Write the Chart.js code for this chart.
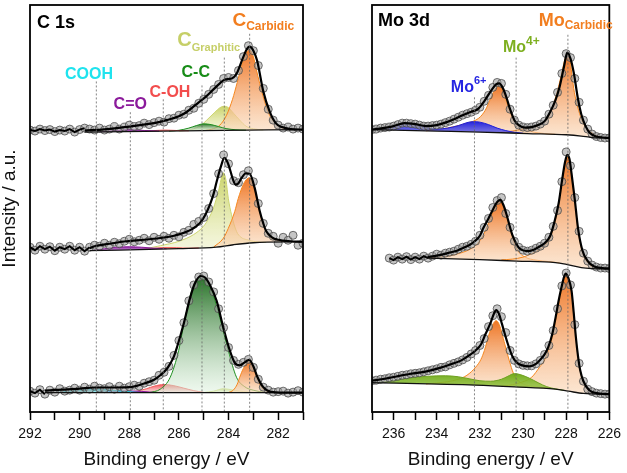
<!DOCTYPE html>
<html>
<head>
<meta charset="utf-8">
<title>XPS C 1s / Mo 3d</title>
<script src="https://cdn.jsdelivr.net/npm/chart.js@4.4.1/dist/chart.umd.min.js"></script>
<style>
	html, body { margin: 0; padding: 0; background: #fff; }
	#wrap { position: relative; width: 627px; height: 473px; }
	canvas { position: absolute; top: 0; }
	#c1sChart { left: 0; }
	#moChart { left: 313px; }
</style>
</head>
<body>
<div id="wrap">
	<canvas id="c1sChart" width="313" height="473"></canvas>
	<canvas id="moChart" width="314" height="473"></canvas>
</div>
<script>
// ---- C 1s data (binding energy in eV, intensity in a.u. incl. stack offset) ----
const c1sTicks = [292, 291, 290, 289, 288, 287, 286, 285, 284, 283, 282, 281];
const c1sEnergy = [292, 291.8, 291.6, 291.4, 291.2, 291, 290.8, 290.6, 290.4, 290.2, 290, 289.8, 289.6, 289.4, 289.2, 289, 288.8, 288.6, 288.4, 288.2, 288, 287.8, 287.6, 287.4, 287.2, 287, 286.8, 286.6, 286.4, 286.2, 286, 285.8, 285.6, 285.4, 285.2, 285, 284.8, 284.6, 284.4, 284.2, 284, 283.8, 283.6, 283.4, 283.2, 283, 282.8, 282.6, 282.4, 282.2, 282, 281.8, 281.6, 281.4, 281.2, 281];

const c1sRawTop = [284, 283, 285, 283.5, 284.5, 282.5, 284, 283, 285, 282, 284.5, 286, 285, 284, 286, 284, 285, 287.5, 285, 287, 289, 287.5, 288.5, 291, 289.5, 291.5, 293, 292, 295.5, 296, 299, 300, 304, 306, 311, 315, 320, 325, 330, 336, 337, 336, 344, 358, 369, 364, 349, 326, 305, 294, 289, 286, 287, 285, 286, 285];
const c1sRawMid = [166, 163, 167, 164, 166.5, 162.5, 166, 164, 167, 163, 166, 162, 166, 168, 167, 170, 168, 171, 169.5, 172, 174, 171.5, 173, 175, 172.5, 176, 174, 177, 175, 178, 176.5, 181, 183, 189, 192, 196, 205, 220, 240, 259, 250, 233, 231, 239, 243, 232, 210, 190, 180, 177, 170, 176, 173, 178, 168, 170];
const c1sRawBot = [21, 19, 22.5, 18, 22, 20, 23.5, 21, 22, 24, 22, 25, 23, 26, 24, 23.5, 25.5, 23, 26, 24, 25.5, 27, 26, 29, 30.5, 32, 37, 40, 46, 57, 72, 90, 112, 128, 136, 137, 131, 121, 104, 85, 65, 52, 48, 50, 53, 45, 33, 25, 22, 20, 20.5, 21, 19, 20, 21.5, 20];

const c1sFitTop = [[289.8, 283.6], [289, 284.8], [288.5, 286], [288, 287.5], [287.5, 289.2], [287, 291], [286.5, 294], [286, 298], [285.7, 302], [285.2, 312], [284.9, 318], [284.65, 324], [284.35, 331], [284.15, 335], [283.95, 335.5], [283.8, 337], [283.65, 342], [283.4, 358], [283.25, 366], [283.15, 368], [283, 364], [282.85, 354], [282.6, 323], [282.35, 303], [282.1, 291], [281.85, 287], [281.5, 285], [281, 284.5]];
const c1sBgTop = [[289.8, 282], [285, 283.4], [281, 284.5]];
const c1sCarbTop = [[285, 283.4], [284.6, 285.5], [284.35, 289], [284.08, 299], [283.84, 315], [283.65, 332], [283.48, 348], [283.3, 361], [283.15, 365], [283, 358], [282.88, 345], [282.61, 318], [282.35, 299], [282.1, 291], [281.95, 287.5], [281.6, 285], [281.2, 284.5]];
const c1sGraphTop = [[286, 283.1], [285.5, 284.5], [285.1, 289], [284.88, 294], [284.55, 302], [284.35, 306.5], [284.18, 308], [284, 306.5], [283.8, 301], [283.55, 294], [283.3, 288], [283, 285.2], [282.6, 284.3]];
const c1sCCTop = [[286.4, 283], [286, 283.8], [285.6, 286], [285.3, 288.5], [285, 290.3], [284.7, 289.5], [284.4, 287.5], [284.1, 285.5], [283.7, 284.3], [283.3, 283.9]];
const c1sCOHTop = [[287.6, 282.7], [287.1, 283.3], [286.6, 284], [286.1, 283.6], [285.6, 283.3]];
const c1sCOTop = [[289.2, 282.2], [288.6, 283.4], [288, 284.4], [287.4, 283.6], [286.8, 283]];

const c1sFitMid = [[289.6, 165], [289.4, 167], [288.8, 169.5], [288.1, 172], [287.4, 173.5], [286.75, 175.3], [286.2, 177.5], [285.8, 180.5], [285.45, 184.5], [285.15, 190.5], [284.95, 198], [284.75, 209], [284.6, 220], [284.48, 232], [284.3, 248], [284.17, 256], [284.05, 252], [283.95, 245], [283.82, 234], [283.71, 229], [283.6, 230.5], [283.48, 235.5], [283.3, 240.5], [283.15, 240], [282.95, 226], [282.75, 203], [282.6, 190], [282.48, 182], [282.25, 176], [282, 173.5], [281.5, 172], [281, 171.5]];
const c1sBgMid = [[289.6, 162.5], [286, 164.5], [284.5, 166], [283.8, 168.5], [283, 170.5], [281, 171.5]];
const c1sCarbMid = [[284.6, 166.2], [284.21, 175], [284.01, 185], [283.75, 202], [283.61, 215], [283.41, 229], [283.25, 235], [283.15, 236], [283, 230], [282.88, 216], [282.68, 195.5], [282.41, 179], [282.1, 173.5], [281.7, 172], [281.3, 171.6]];
const c1sGraphMid = [[287.5, 163.7], [286.75, 167.5], [286, 172], [285.41, 178.7], [285.01, 187], [284.8, 195], [284.61, 205.3], [284.4, 223], [284.21, 241], [284.1, 233], [284.01, 215.3], [283.88, 198.7], [283.68, 182], [283.5, 176], [283.28, 173.7], [282.9, 171.5], [282.5, 171]];
const c1sCOHMid = [[287.6, 163.7], [287.1, 164.6], [286.6, 165.6], [286.1, 165.5], [285.6, 165], [285.2, 165.3]];
const c1sCOMid = [[289.5, 162.6], [289, 164.5], [288.5, 166], [288, 166.5], [287.5, 166], [287, 165], [286.5, 164.5]];

const c1sFitBot = [[291.4, 21.5], [290.7, 22.5], [290, 23.5], [289.4, 24.7], [288.6, 24.7], [288, 25], [287.4, 28.7], [287, 32.5], [286.75, 37], [286.5, 43], [286.35, 48.7], [286.2, 56], [286.08, 65], [285.81, 88.7], [285.55, 115], [285.35, 130], [285.12, 137], [284.95, 135.5], [284.75, 128], [284.48, 112], [284.21, 85], [283.95, 62], [283.75, 49.5], [283.55, 47], [283.35, 50], [283.17, 52.5], [283, 46], [282.85, 36], [282.61, 25.3], [282.3, 20.3], [281.8, 19.5], [281, 19.5]];
const c1sBgBot = [[291.4, 19.5], [281, 19.5]];
const c1sCCBot = [[287.2, 19.6], [286.75, 23], [286.35, 35], [286.01, 62], [285.75, 95], [285.41, 128], [285.15, 135], [284.95, 133.5], [284.75, 127], [284.35, 95], [284.01, 62], [283.68, 35], [283.35, 25.5], [283.01, 22], [282.5, 19.6]];
const c1sCarbBot = [[284, 19.7], [283.81, 22], [283.65, 28], [283.55, 35], [283.4, 44], [283.2, 50.5], [283.05, 47.5], [282.88, 37], [282.68, 25.3], [282.45, 21], [282.2, 19.7]];
const c1sGraphBot = [[285, 19.6], [284.6, 21], [284.2, 23.5], [283.8, 22], [283.4, 20.5], [283, 19.7]];
const c1sCOHBot = [[288.2, 19.7], [287.7, 21], [287.3, 23.5], [287, 26], [286.6, 27.7], [286.2, 26.5], [285.8, 24], [285.4, 21.5], [285, 19.8]];
const c1sCOBot = [[289.2, 19.6], [288.5, 20.8], [288, 21.2], [287.5, 20.8], [287, 19.7]];
const c1sCOOHBot = [[291, 19.6], [290.4, 21], [289.8, 22.5], [289.3, 23], [288.8, 22.3], [288.2, 20.8], [287.6, 19.7]];

const c1sPeaks = [289.33, 287.96, 286.63, 285.07, 284.17, 283.15];
const c1sMarkTop = [333, 302, 315, 329, 357, 381];

// ---- Mo 3d data ----
const moTicks = [237, 236, 235, 234, 233, 232, 231, 230, 229, 228, 227, 226];
const moEnergy = [237, 236.8, 236.6, 236.4, 236.2, 236, 235.8, 235.6, 235.4, 235.2, 235, 234.8, 234.6, 234.4, 234.2, 234, 233.8, 233.6, 233.4, 233.2, 233, 232.8, 232.6, 232.4, 232.2, 232, 231.8, 231.6, 231.4, 231.2, 231, 230.8, 230.6, 230.4, 230.2, 230, 229.8, 229.6, 229.4, 229.2, 229, 228.8, 228.6, 228.4, 228.2, 228, 227.8, 227.6, 227.4, 227.2, 227, 226.8, 226.6, 226.4, 226.2, 226];

const moRawTop = [284.5, 285, 286, 286.5, 287, 288, 289.5, 291, 291, 290.5, 290, 289, 288, 288, 288.5, 289, 290, 291.5, 293, 295, 297, 299, 300.5, 302, 304, 307, 313, 319, 327, 332, 331, 320, 305, 294, 289, 287, 286.5, 287, 288, 290, 293, 300, 309, 322, 341, 361, 357, 336, 312, 294, 285, 280, 277.5, 276.5, 276, 276];
const moRawMid = [null, null, null, null, 155, 153, 156, 154, 156.5, 153.5, 156, 154, 157, 155, 157, 159, 158, 160, 161, 162, 164, 166, 167, 169, 172, 178, 186, 195, 206, 213, 216, 200, 186, 172, 166, 163, 162, 163, 165, 167, 170, 176, 187, 203, 232, 262, 248, 216, 182, 160, 152, 148, 146, 145, 145, 144.5];
const moRawBot = [31.5, 32, 33, 33.5, 34.5, 35, 36, 37, 37.5, 38.5, 39, 39.5, 40.5, 41.5, 42.5, 43.5, 45, 45.5, 47.5, 49, 50.5, 52.5, 55, 58.5, 62, 67, 74, 86, 97, 104, 96, 80, 62, 52, 48.5, 47, 46.5, 46.5, 48.5, 52, 58, 67, 82, 104, 127, 140, 128, 88, 49, 31, 23, 20.5, 19, 18.5, 18, 18];

const moFitTop = [[237, 284.5], [236.5, 286], [236, 288], [235.5, 291], [235, 290], [234.5, 288], [234, 289], [233.6, 291.5], [233.2, 295], [232.8, 299], [232.4, 302.5], [232.1, 305], [231.8, 313], [231.5, 323], [231.25, 330], [231.1, 331], [230.95, 327], [230.8, 319], [230.6, 305], [230.4, 294], [230.2, 289], [229.9, 286.5], [229.6, 287], [229.3, 289], [229, 293], [228.75, 302], [228.5, 314], [228.3, 328], [228.1, 348], [227.95, 362], [227.8, 356], [227.65, 342], [227.45, 315], [227.3, 300], [227.1, 288], [226.9, 281], [226.6, 277.5], [226.3, 276.5], [226, 276]];
const moBgTop = [[237, 284.5], [234, 283], [232, 282], [229.8, 280.5], [228, 279.3], [227.3, 278], [226.8, 276.5], [226, 276]];
const moCarb1Top = [[234.5, 283.3], [233.8, 285], [233.2, 287.5], [232.6, 291], [232.05, 296], [231.75, 304], [231.52, 315], [231.3, 325], [231.1, 329], [230.95, 325], [230.71, 309], [230.44, 295], [230.04, 286.5], [229.6, 282.5], [229, 280.5], [228.5, 279.8]];
const moCarb2Top = [[231.2, 281.7], [230.5, 283], [230, 285], [229.5, 287.5], [229.1, 291], [228.8, 298], [228.56, 312], [228.35, 328], [228.2, 342], [228.05, 356], [227.95, 360], [227.85, 357], [227.62, 322], [227.35, 298.7], [227.15, 289], [226.95, 284], [226.6, 278.5], [226.3, 276.5]];
const moSixTop = [[237, 284.5], [236.5, 285.5], [236, 287.5], [235.45, 290.5], [235, 289.5], [234.5, 286.5], [234, 285], [233.5, 286], [233, 288.5], [232.6, 291.5], [232.3, 292.5], [232, 292], [231.6, 289.5], [231.2, 286], [230.8, 283.5], [230.4, 281.8], [230, 280.8]];

const moFitMid = [[234.42, 156], [234, 157.5], [233.45, 160.3], [233, 163], [232.78, 165.3], [232.5, 168], [232.24, 172], [232, 177.5], [231.84, 185.3], [231.6, 195], [231.44, 202], [231.25, 210], [231.05, 213.7], [230.9, 208], [230.76, 198.7], [230.6, 186], [230.5, 178.7], [230.3, 169], [230.16, 164.7], [229.82, 162], [229.5, 163.5], [229.29, 166], [229, 170], [228.75, 177], [228.55, 191], [228.35, 210], [228.2, 232], [228.05, 252], [227.95, 259], [227.85, 255], [227.75, 240], [227.6, 214], [227.45, 185], [227.25, 163], [227, 152], [226.7, 146.5], [226.3, 145], [226, 144.7]];
const moBgMid = [[234.42, 155], [232, 153.5], [230.3, 152], [228.5, 150.5], [227.95, 148.5], [227.3, 145.5], [226.8, 144.5], [226, 144]];
const moCarb1Mid = [[234.42, 155], [233.5, 157], [233, 159.5], [232.5, 163.5], [232.1, 170], [231.8, 180], [231.5, 196], [231.25, 208], [231.05, 212], [230.9, 207], [230.76, 197], [230.5, 177], [230.25, 163], [229.9, 156], [229.4, 153], [228.8, 151.5], [228.3, 150.3]];
const moCarb2Mid = [[231, 153.3], [230.5, 154], [230, 156], [229.6, 159.5], [229.29, 163], [229, 167.5], [228.75, 175], [228.55, 189], [228.35, 208], [228.2, 230], [228.05, 250], [227.95, 257], [227.85, 253], [227.75, 238], [227.6, 212], [227.45, 183], [227.25, 161.5], [227, 150.5], [226.7, 145.5], [226.3, 144.3]];

const moFitBot = [[237, 31.5], [236.4, 33.5], [235.82, 36], [235.2, 38.5], [234.47, 41], [233.85, 44.5], [233.3, 48.5], [232.86, 52], [232.5, 57], [232.2, 62], [231.95, 68], [231.75, 78], [231.52, 89], [231.35, 99], [231.25, 102.7], [231.1, 98], [230.98, 89], [230.71, 69], [230.5, 56.5], [230.3, 50], [230.04, 47], [229.7, 46], [229.4, 48.5], [229.23, 52], [229, 58], [228.83, 65.3], [228.65, 78], [228.49, 95.3], [228.35, 112], [228.22, 125.3], [228.1, 136], [228.02, 139.3], [227.9, 135], [227.75, 122], [227.65, 100], [227.55, 75.3], [227.45, 56], [227.35, 42], [227.2, 31], [226.95, 22.5], [226.6, 19], [226.3, 18.3], [226, 18]];
const moBgBot = [[237, 29.5], [232.2, 27], [230.4, 25.3], [228.5, 23], [227.9, 21], [227.2, 18.7], [226, 18]];
const moCarb1Bot = [[234.5, 28.3], [233.5, 30.5], [233, 33], [232.6, 37], [232.19, 45.3], [231.95, 53], [231.79, 62], [231.55, 80], [231.38, 89], [231.25, 92], [231.1, 88], [230.85, 68.7], [230.64, 52], [230.44, 38.7], [230.2, 31], [229.9, 27.5], [229.4, 25.5], [228.8, 24]];
const moCarb2Bot = [[231, 25.9], [230.5, 27.5], [230, 30.5], [229.6, 35], [229.23, 45.3], [229, 52.5], [228.83, 62], [228.65, 75], [228.49, 92], [228.35, 108], [228.22, 122], [228.1, 134], [228.02, 138.5], [227.9, 134.5], [227.75, 121], [227.65, 99], [227.55, 75], [227.45, 55.5], [227.35, 41.5], [227.2, 30.5], [226.95, 22], [226.6, 18.8], [226.3, 18.2]];
const moFourBot = [[236.8, 29.6], [236, 31.5], [235.2, 34.5], [234.4, 36], [233.6, 36.5], [233, 35.5], [232.5, 33.5], [232, 31.5], [231.5, 31], [231, 33], [230.7, 36], [230.4, 38.7], [230.1, 37.5], [229.7, 34], [229.3, 29.5], [228.9, 25.5], [228.5, 23.3], [228.1, 21.8]];

const moPeaks = [232.25, 230.32, 227.92];
const moMarkTop = [317, 357, 380];

// ---- styles ----
const FONT = '"Liberation Sans", Arial, sans-serif';
Chart.defaults.font.family = FONT;
Chart.defaults.color = "#111";

const STYLE = {
	carbidic: { line: "#F5861E", top: "rgba(238,112,28,0.96)", bottom: "rgba(250,214,180,0.6)" },
	graphitic: { line: "#CDD570", top: "rgba(196,206,88,0.9)", bottom: "rgba(236,240,196,0.55)" },
	cc: { line: "#1E8E1E", top: "rgba(30,108,30,0.95)", bottom: "rgba(222,242,222,0.5)" },
	coh: { line: "#F25A5A", top: "rgba(240,64,70,0.9)", bottom: "rgba(248,180,182,0.5)" },
	co: { line: "#8A1A9A", top: "rgba(125,20,148,0.95)", bottom: "rgba(190,100,205,0.7)" },
	cooh: { line: "#1FD0DC", top: "rgba(20,200,212,0.9)", bottom: "rgba(130,225,232,0.6)" },
	mo6: { line: "#2020D8", top: "rgba(28,28,222,0.96)", bottom: "rgba(96,96,232,0.8)" },
	mo4: { line: "#6FA020", top: "rgba(108,168,20,0.96)", bottom: "rgba(150,198,70,0.8)" },
};

const pairs = (arr) => arr.map(([x, y]) => ({ x, y }));
const zip = (xs, ys) => xs.map((x, i) => ({ x, y: ys[i] }));

// vertical gradient from the top of a peak down to its base
function peakFill(style) {
	return (context) => {
		const chart = context.chart;
		if (!chart.chartArea) return style.top;
		const ys = context.dataset.data.map((p) => p.y);
		const yScale = chart.scales.y;
		const g = chart.ctx.createLinearGradient(
			0,
			yScale.getPixelForValue(Math.max(...ys)),
			0,
			yScale.getPixelForValue(Math.min(...ys)),
		);
		g.addColorStop(0, style.top);
		g.addColorStop(1, style.bottom);
		return g;
	};
}

// peaks listed first are drawn on top
function addSpectrum(list, s) {
	const bgIndex = list.length;
	list.push({ data: pairs(s.bg), borderColor: "#111", borderWidth: 1.3, cubicInterpolationMode: "monotone", order: 2 });
	for (const p of s.peaks) {
		list.push({
			data: pairs(p.data),
			borderColor: STYLE[p.kind].line,
			borderWidth: 1,
			backgroundColor: peakFill(STYLE[p.kind]),
			fill: { target: bgIndex },
			cubicInterpolationMode: "monotone",
			order: 5,
		});
	}
	const raw = zip(s.energy, s.raw).filter((p) => p.y !== null);
	list.push({
		data: raw,
		showLine: false,
		pointRadius: 4,
		pointBackgroundColor: "rgba(160,160,160,0.6)",
		pointBorderColor: "rgba(70,70,70,0.75)",
		pointBorderWidth: 1,
		order: 4,
	});
	list.push({ data: raw.filter((p) => p.x >= s.cut), borderColor: "#000", borderWidth: 2, order: 1 });
	list.push({ data: pairs(s.fit), borderColor: "#000", borderWidth: 2.2, cubicInterpolationMode: "monotone", order: 1 });
}

function addMarkers(list, peaks, tops) {
	peaks.forEach((x, i) => {
		list.push({
			data: [{ x, y: tops[i] }, { x, y: 0 }],
			borderColor: "#666",
			borderWidth: 0.8,
			borderDash: [2, 2],
			order: 0,
		});
	});
}

// frame, panel heading and peak labels
const panelDecor = {
	id: "panelDecor",
	afterDatasetsDraw(chart, args, opts) {
		const { ctx, chartArea: a, scales } = chart;
		ctx.save();
		ctx.strokeStyle = "#000";
		ctx.lineWidth = 1.8;
		ctx.strokeRect(a.left, a.top, a.right - a.left, a.bottom - a.top);

		ctx.textAlign = "left";
		ctx.textBaseline = "alphabetic";
		ctx.fillStyle = "#000";
		ctx.font = `bold 18px ${FONT}`;
		ctx.fillText(opts.heading, a.left + opts.headingX, a.top + opts.headingY);

		for (const l of opts.labels) {
			const mainFont = `bold ${l.size}px ${FONT}`;
			const smallFont = `bold ${l.small || 11}px ${FONT}`;
			ctx.font = mainFont;
			const w1 = ctx.measureText(l.text).width;
			ctx.font = smallFont;
			const w2 = l.extra ? ctx.measureText(l.extra).width : 0;
			const x0 = scales.x.getPixelForValue(l.at) - (w1 + w2) / 2;
			const by = scales.y.getPixelForValue(l.base);
			ctx.fillStyle = l.color;
			ctx.font = mainFont;
			ctx.fillText(l.text, x0, by);
			if (l.extra) {
				ctx.font = smallFont;
				ctx.fillText(l.extra, x0 + w1, by + l.shift);
			}
		}
		ctx.restore();
	},
};

function buildChart(id, cfg) {
	return new Chart(document.getElementById(id), {
		type: "line",
		data: { datasets: cfg.datasets },
		options: {
			responsive: false,
			animation: false,
			events: [],
			layout: { padding: cfg.padding },
			elements: { point: { radius: 0 }, line: { tension: 0 } },
			scales: {
				x: {
					type: "linear",
					reverse: true,
					min: cfg.ticks[cfg.ticks.length - 1],
					max: cfg.ticks[0],
					afterBuildTicks: (axis) => {
						axis.ticks = cfg.ticks.map((v) => ({ value: v }));
					},
					afterFit: (scale) => {
						scale.height = 61;
					},
					ticks: {
						autoSkip: false,
						maxRotation: 0,
						padding: 6,
						color: "#111",
						font: { size: 14 },
						callback: (v) => (v % 2 === 0 ? String(v) : ""),
					},
					grid: {
						display: true,
						drawOnChartArea: false,
						drawTicks: true,
						tickLength: 8,
						color: "#000",
						tickWidth: 1.5,
					},
					border: { display: false },
					title: {
						display: true,
						text: "Binding energy / eV",
						color: "#111",
						font: { size: 19 },
						padding: { top: 0, bottom: 2 },
					},
				},
				y: {
					type: "linear",
					min: 0,
					max: 410,
					display: cfg.yTitle ? true : false,
					afterFit: (scale) => {
						scale.width = 30;
					},
					ticks: { display: false },
					grid: { display: false },
					border: { display: false },
					title: {
						display: !!cfg.yTitle,
						text: cfg.yTitle || "",
						color: "#111",
						font: { size: 19, lineHeight: 1 },
						padding: 0,
					},
				},
			},
			plugins: {
				legend: { display: false },
				tooltip: { enabled: false },
				panelDecor: cfg.decor,
			},
		},
		plugins: [panelDecor],
	});
}

// ---- C 1s panel ----
const c1sSets = [];
addSpectrum(c1sSets, {
	energy: c1sEnergy, raw: c1sRawTop, cut: 289.8, fit: c1sFitTop, bg: c1sBgTop,
	peaks: [
		{ kind: "co", data: c1sCOTop },
		{ kind: "coh", data: c1sCOHTop },
		{ kind: "cc", data: c1sCCTop },
		{ kind: "carbidic", data: c1sCarbTop },
		{ kind: "graphitic", data: c1sGraphTop },
	],
});
addSpectrum(c1sSets, {
	energy: c1sEnergy, raw: c1sRawMid, cut: 289.6, fit: c1sFitMid, bg: c1sBgMid,
	peaks: [
		{ kind: "co", data: c1sCOMid },
		{ kind: "coh", data: c1sCOHMid },
		{ kind: "carbidic", data: c1sCarbMid },
		{ kind: "graphitic", data: c1sGraphMid },
	],
});
addSpectrum(c1sSets, {
	energy: c1sEnergy, raw: c1sRawBot, cut: 291.4, fit: c1sFitBot, bg: c1sBgBot,
	peaks: [
		{ kind: "cooh", data: c1sCOOHBot },
		{ kind: "co", data: c1sCOBot },
		{ kind: "carbidic", data: c1sCarbBot },
		{ kind: "cc", data: c1sCCBot },
		{ kind: "coh", data: c1sCOHBot },
		{ kind: "graphitic", data: c1sGraphBot },
	],
});
addMarkers(c1sSets, c1sPeaks, c1sMarkTop);

buildChart("c1sChart", {
	datasets: c1sSets,
	ticks: c1sTicks,
	padding: { left: 0, right: 10, top: 2, bottom: 0 },
	yTitle: "Intensity / a.u.",
	decor: {
		heading: "C 1s",
		headingX: 7,
		headingY: 23,
		labels: [
			{ text: "COOH", at: 289.62, base: 335, size: 16, color: "#1FE3EE" },
			{ text: "C=O", at: 287.96, base: 305, size: 16, color: "#8B1A9B" },
			{ text: "C-OH", at: 286.36, base: 317, size: 16, color: "#F24D4D" },
			{ text: "C-C", at: 285.32, base: 337, size: 16, color: "#178C17" },
			{ text: "C", extra: "Graphitic", at: 284.8, base: 369, size: 20, small: 11, shift: 5, color: "#C6CF68" },
			{ text: "C", extra: "Carbidic", at: 282.6, base: 389, size: 19, small: 12, shift: 4, color: "#F27E1F" },
		],
	},
});

// ---- Mo 3d panel ----
const moSets = [];
addSpectrum(moSets, {
	energy: moEnergy, raw: moRawTop, cut: 999, fit: moFitTop, bg: moBgTop,
	peaks: [
		{ kind: "mo6", data: moSixTop },
		{ kind: "carbidic", data: moCarb2Top },
		{ kind: "carbidic", data: moCarb1Top },
	],
});
addSpectrum(moSets, {
	energy: moEnergy, raw: moRawMid, cut: 234.4, fit: moFitMid, bg: moBgMid,
	peaks: [
		{ kind: "carbidic", data: moCarb2Mid },
		{ kind: "carbidic", data: moCarb1Mid },
	],
});
addSpectrum(moSets, {
	energy: moEnergy, raw: moRawBot, cut: 999, fit: moFitBot, bg: moBgBot,
	peaks: [
		{ kind: "mo4", data: moFourBot },
		{ kind: "carbidic", data: moCarb2Bot },
		{ kind: "carbidic", data: moCarb1Bot },
	],
});
addMarkers(moSets, moPeaks, moMarkTop);

buildChart("moChart", {
	datasets: moSets,
	ticks: moTicks,
	padding: { left: 29, right: 12, top: 2, bottom: 0 },
	yTitle: null,
	decor: {
		heading: "Mo 3d",
		headingX: 6,
		headingY: 21,
		labels: [
			{ text: "Mo", extra: "6+", at: 232.52, base: 322, size: 16, small: 11, shift: -8, color: "#2626E2" },
			{ text: "Mo", extra: "4+", at: 230.08, base: 363, size: 16, small: 12, shift: -7, color: "#7DAF1F" },
			{ text: "Mo", extra: "Carbidic", at: 227.56, base: 389, size: 18, small: 12, shift: 3, color: "#F27E1F" },
		],
	},
});
</script>
</body>
</html>
